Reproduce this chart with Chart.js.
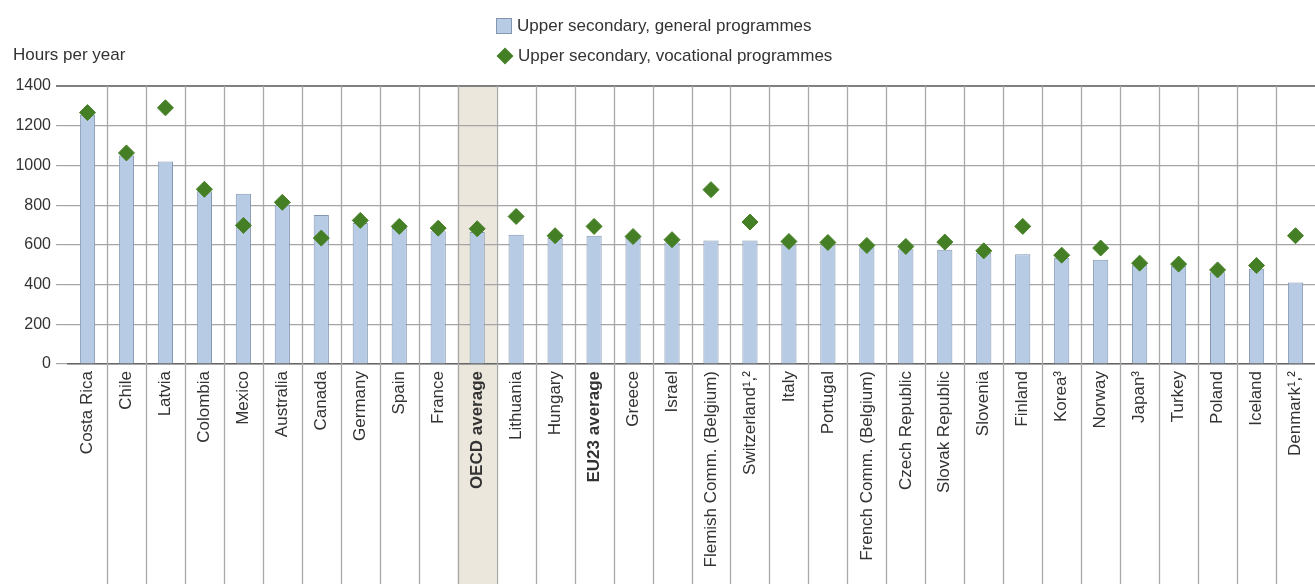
<!DOCTYPE html>
<html>
<head>
<meta charset="utf-8">
<script src="https://cdn.jsdelivr.net/npm/chart.js@4/dist/chart.umd.min.js"></script>
<style>
    body { margin: 0; background: #fff; font-family: "Liberation Sans", Arial, sans-serif; color: #333; overflow: hidden; }
    #wrap { position: relative; width: 1315px; height: 584px; }
    .unit { position: absolute; left: 13px; top: 45px; font-size: 17px; }
    .legend { position: absolute; left: 496px; font-size: 17px; line-height: 20px; }
    .legend span { display: inline-block; vertical-align: middle; }
    .swatch { width: 14px; height: 14px; background: #b7cbe5; border: 1px solid #8497b0; margin-right: 5px; }
    .diamond { width: 12px; height: 12px; background: #457f25; transform: rotate(45deg); margin: 0 7px 0 3px; }
</style>
</head>
<body>
<div id="wrap">
    <canvas id="hoursChart"></canvas>
    <div class="unit">Hours per year</div>
    <div class="legend" style="top: 15px;"><span class="swatch"></span><span>Upper secondary, general programmes</span></div>
    <div class="legend" style="top: 45px;"><span class="diamond"></span><span>Upper secondary, vocational programmes</span></div>
</div>
<script>
// Countries in chart order
const categories = [
    'Costa Rica', 'Chile', 'Latvia', 'Colombia', 'Mexico', 'Australia', 'Canada', 'Germany',
    'Spain', 'France', 'OECD average', 'Lithuania', 'Hungary', 'EU23 average', 'Greece', 'Israel',
    'Flemish Comm. (Belgium)', 'Switzerland¹,²', 'Italy', 'Portugal', 'French Comm. (Belgium)',
    'Czech Republic', 'Slovak Republic', 'Slovenia', 'Finland', 'Korea³', 'Norway', 'Japan³',
    'Turkey', 'Poland', 'Iceland', 'Denmark¹,²'
];

// Upper secondary, general programmes (bars)
const generalHours = [
    1255, 1050, 1020, 870, 858, 800, 750, 710,
    685, 668, 665, 651, 635, 646, 635, 612,
    622, 622, 602, 598, 588,
    578, 575, 560, 553, 535, 525, 500,
    495, 462, 480, 410
];

// Upper secondary, vocational programmes (diamonds)
const vocationalHours = [
    1266, 1063, 1290, 880, 698, 814, 634, 723,
    693, 684, 681, 743, 646, 693, 642, 626,
    878, 715, 617, 612, 597,
    592, 614, 570, 693, 548, 584, 508,
    503, 474, 496, 646
];

const yTicks = [0, 200, 400, 600, 800, 1000, 1200, 1400];
const highlighted = ['OECD average'];
const boldLabels = ['OECD average', 'EU23 average'];

// Shades the OECD column and draws the column separators down to the labels
const columnLines = {
    id: 'columnLines',
    beforeDraw(chart) {
        const { ctx, chartArea, scales: { x } } = chart;
        const step = (chartArea.right - chartArea.left) / categories.length;
        ctx.save();
        ctx.fillStyle = '#ece7dd';
        highlighted.forEach(name => {
            const cx = x.getPixelForValue(categories.indexOf(name));
            ctx.fillRect(cx - step / 2, chartArea.top, step, chart.height - chartArea.top);
        });
        ctx.restore();
    },
    beforeDatasetsDraw(chart) {
        const { ctx, chartArea, scales: { x } } = chart;
        const step = (chartArea.right - chartArea.left) / categories.length;
        ctx.save();
        ctx.strokeStyle = '#a8a8a8';
        ctx.lineWidth = 1.3;
        for (let i = 1; i < categories.length; i++) {
            const px = Math.round(x.getPixelForValue(i) - step / 2) + 0.5;
            ctx.beginPath();
            ctx.moveTo(px, chartArea.top);
            ctx.lineTo(px, chart.height);
            ctx.stroke();
        }
        ctx.restore();
    }
};

function renderHoursChart() {
    new Chart(document.getElementById('hoursChart'), {
        data: {
            labels: categories,
            datasets: [
                {
                    type: 'line',
                    label: 'Upper secondary, vocational programmes',
                    data: vocationalHours,
                    showLine: false,
                    pointStyle: 'rectRot',
                    pointRadius: 8,
                    pointHoverRadius: 8,
                    backgroundColor: '#457f25',
                    borderColor: '#457f25',
                    borderWidth: 1,
                    clip: false,
                    order: 0
                },
                {
                    type: 'bar',
                    label: 'Upper secondary, general programmes',
                    data: generalHours,
                    backgroundColor: '#b7cbe5',
                    borderColor: '#8497b0',
                    borderWidth: 1,
                    categoryPercentage: 1,
                    barPercentage: 0.39,
                    order: 1
                }
            ]
        },
        options: {
            responsive: true,
            maintainAspectRatio: false,
            animation: false,
            layout: { autoPadding: false, padding: { top: 86, left: 12, right: 0, bottom: 0 } },
            plugins: { legend: { display: false }, tooltip: { enabled: false } },
            scales: {
                x: {
                    offset: true,
                    grid: { display: false, drawTicks: false },
                    border: { display: true, color: '#666', width: 1.5 },
                    ticks: {
                        autoSkip: false,
                        maxRotation: 90,
                        minRotation: 90,
                        padding: 7,
                        color: '#333',
                        font: ctx => ({
                            family: '"Liberation Sans", Arial, sans-serif',
                            size: 17,
                            weight: boldLabels.includes(categories[ctx.index]) ? 'bold' : 'normal'
                        })
                    },
                    afterFit: scale => {
                        scale.height = 220;
                        scale.paddingLeft = 0;
                        scale.paddingRight = 0;
                    }
                },
                y: {
                    min: 0,
                    max: 1400,
                    afterBuildTicks: scale => { scale.ticks = yTicks.map(v => ({ value: v })); },
                    grid: {
                        color: ctx => (ctx.tick && ctx.tick.value === 1400 ? '#808080' : '#a5a5a5'),
                        lineWidth: ctx => (ctx.tick && ctx.tick.value === 1400 ? 2 : 1.2),
                        tickLength: 12
                    },
                    border: { display: false },
                    ticks: {
                        padding: 5,
                        color: '#333',
                        font: { family: '"Liberation Sans", Arial, sans-serif', size: 16 },
                        callback: value => String(value)
                    },
                    afterFit: scale => { scale.width = 56; }
                }
            }
        },
        plugins: [columnLines]
    });
}

document.addEventListener('DOMContentLoaded', renderHoursChart);
</script>
</body>
</html>
